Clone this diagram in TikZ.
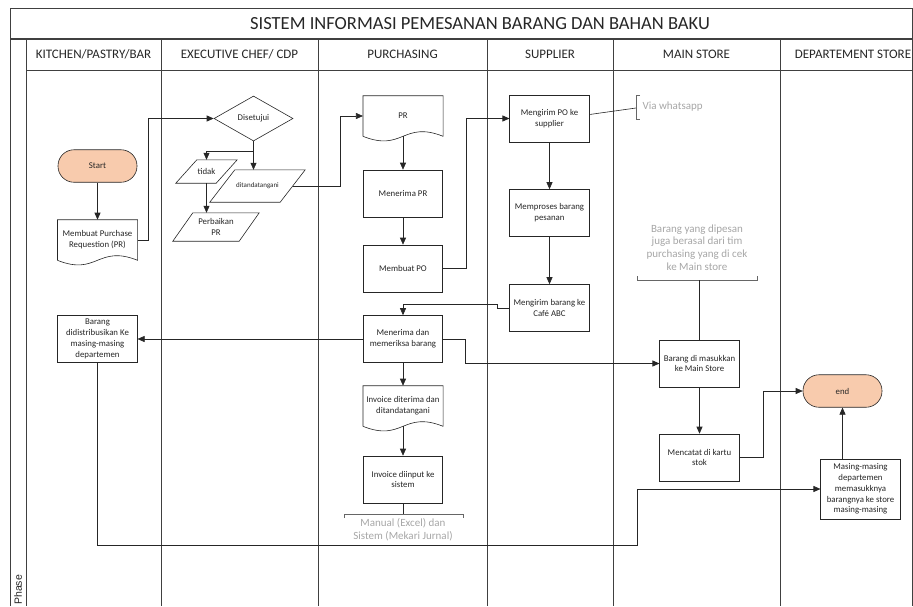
\documentclass[tikz,border=0pt]{standalone}
\usepackage{fontspec}
\setmainfont{Carlito}
\newfontfamily\phasefont{Liberation Sans}
\usetikzlibrary{arrows.meta,shapes.geometric,calc}
\definecolor{frame}{HTML}{404040}
\definecolor{peach}{HTML}{F8CBAD}
\definecolor{note}{HTML}{A6A6A6}
\definecolor{ink}{HTML}{262626}

\begin{document}
\begin{tikzpicture}[x=1pt,y=1pt,
  lane/.style={draw=frame,line width=1pt},
  lanehead/.style={text=ink,font=\fontsize{13}{15}\selectfont},
  procbox/.style={draw=ink,line width=0.6pt,fill=white,minimum width=79.5pt,minimum height=47pt,inner sep=1pt,align=center,text=ink,font=\fontsize{8.8}{10.8}\selectfont},
  docbox/.style={procbox,draw=none,fill=none,minimum height=40pt},
  terminal/.style={draw=ink,line width=0.6pt,fill=peach,rounded corners=16pt,minimum width=79pt,minimum height=32.5pt,text=ink,font=\fontsize{8.8}{10.8}\selectfont},
  decision/.style={diamond,draw=ink,line width=0.6pt,aspect=1.75,minimum width=79pt,minimum height=45pt,inner sep=0pt,text=ink,font=\fontsize{8.8}{10.8}\selectfont},
  ioshape/.style={inner sep=1pt,align=center,text=ink,font=\fontsize{8.8}{10.8}\selectfont},
  notetext/.style={text=note,align=center,font=\fontsize{11}{12.8}\selectfont},
  arrow/.style={-{Triangle[length=7pt,width=6pt]},line width=0.6pt,color=ink},
  link/.style={line width=0.6pt,color=ink},
  bracket/.style={line width=0.9pt,draw=frame!80}
]
\useasboundingbox (0,0) rectangle (913,-606);

% swimlane frame
\draw[lane] (10,-606) -- (10,-8) -- (912,-8) -- (912,-606);
\draw[lane,line width=1.6pt] (10,-39) -- (912,-39);
\draw[lane] (26,-70) -- (912,-70);
\draw[lane] (26,-39) -- (26,-606);
\foreach \x in {161,318,487,613,780}
  \draw[lane] (\x,-39) -- (\x,-606);

\node[text=ink,font=\fontsize{18.5}{20}\selectfont] (title) at (480,-23.5) {SISTEM INFORMASI PEMESANAN BARANG DAN BAHAN BAKU};
\node[lanehead] (h1) at (93.5,-54.5) {KITCHEN/PASTRY/BAR};
\node[lanehead] (h2) at (239.5,-54.5) {EXECUTIVE CHEF/ CDP};
\node[lanehead] (h3) at (402.5,-54.5) {PURCHASING};
\node[lanehead] (h4) at (550,-54.5) {SUPPLIER};
\node[lanehead] (h5) at (696.5,-54.5) {MAIN STORE};
\node[lanehead] (h6) at (853,-54.5) {DEPARTEMENT STORE};
\node[rotate=90,anchor=west,inner sep=0pt,text=ink,font=\phasefont\fontsize{10.5}{12}\selectfont] (phase) at (18,-605) {Phase};

% kitchen
\node[terminal] (start) at (97.5,-166) {Start};
\node[docbox] (req) at (97.5,-240) {Membuat Purchase\\Requestion (PR)};
\node[procbox] (distr) at (97.5,-339) {Barang\\didistribusikan Ke\\masing-masing\\departemen};

% executive chef
\node[decision] (acc) at (253.5,-118.5) {Disetujui};
\node[ioshape,minimum width=61pt,minimum height=23pt] (tidak) at (206.5,-171.5) {tidak};
\node[ioshape,minimum width=95pt,minimum height=32pt,font=\fontsize{7}{8}\selectfont] (sign) at (257.5,-186) {ditandatangani};
\node[ioshape,minimum width=86pt,minimum height=28pt] (fix) at (216,-227) {Perbaikan\\PR};

% purchasing
\node[docbox] (pr) at (403,-116) {PR};
\node[procbox] (terimapr) at (403,-193.5) {Menerima PR};
\node[procbox] (po) at (403,-268.5) {Membuat PO};
\node[procbox] (cek) at (403,-339) {Menerima dan\\memeriksa barang};
\node[docbox] (invin) at (403,-406) {Invoice diterima dan\\ditandatangani};
\node[procbox] (input) at (403,-479.5) {Invoice diinput ke\\sistem};

% supplier
\node[procbox] (kirimpo) at (549.5,-118.5) {Mengirim PO ke\\supplier};
\node[procbox] (proses) at (549.5,-213) {Memproses barang\\pesanan};
\node[procbox] (kirimbrg) at (549.5,-308) {Mengirim barang ke\\Caf\'e ABC};

% main store
\node[procbox] (masuk) at (699.5,-363.5) {Barang di masukkan\\ke Main Store};
\node[procbox] (catat) at (699.5,-457.5) {Mencatat di kartu\\stok};

% departement store
\node[terminal] (end) at (842.5,-391) {end};
\node[procbox,minimum height=60pt] (simpan) at (860.5,-489) {Masing-masing\\departemen\\memasukknya\\barangnya ke store\\masing-masing};

% document and data outlines
\foreach \d in {req,pr,invin}
  \draw[link] (\d.south west) -- (\d.north west) -- (\d.north east) -- (\d.south east)
    .. controls +(-40,16) and +(40,-16) .. (\d.south west);
\foreach \n/\s in {tidak/21,fix/20,sign/25}
  \draw[link] (\n.south west) -- ([xshift=-\s pt]\n.south east) -- (\n.north east)
    -- ([xshift=\s pt]\n.north west) -- cycle;

% notes
\coordinate (wabr) at (636,-108);
\draw[bracket] (640,-95) -- (636,-95) -- (636,-119) -- (640,-119);
\node[notetext,anchor=west] (wa) at (639,-107) {Via whatsapp};
\node[notetext] (stocknote) at (697,-247.5) {Barang yang dipesan\\juga berasal dari tim\\purchasing yang di cek\\ke Main store};
\coordinate (stockbr) at (699.5,-280);
\draw[bracket] (637,-276) -- (637,-280) -- (757,-280) -- (757,-276);
\coordinate (invbr) at (403,-514);
\draw[bracket] (344,-518) -- (344,-514) -- (463,-514) -- (463,-518);
\node[notetext] (invnote) at (403,-530) {Manual (Excel) dan\\Sistem (Mekari Jurnal)};

% connectors
\draw[arrow] (start) -- (req);
\draw[arrow] (req.east) -- ++(11,0) |- (acc.west);
\coordinate (fork) at ($(acc.south)+(0,-10)$);
\draw[arrow] (acc.south) -- (acc.south |- sign.north);
\draw[arrow] (fork) -| (tidak.north);
\draw[arrow] (tidak.south) -- (tidak.south |- fix.north);
\draw[arrow] ([xshift=-12.5pt]sign.east) -- ++(47.5,0) |- (pr.west);
\draw[arrow] (pr) -- (terimapr);
\draw[arrow] (terimapr) -- (po);
\draw[arrow] (po.east) -- ++(23,0) |- (kirimpo.west);
\draw[link] ([yshift=4pt]kirimpo.east) -- (wabr);
\draw[arrow] (kirimpo) -- (proses);
\draw[arrow] (proses) -- (kirimbrg);
\draw[arrow] (kirimbrg.west) -- ++(-12,0) -- ++(0,4) -| (cek.north);
\draw[arrow] (cek) -- (distr);
\draw[arrow] (cek.east) -- ++(22,0) |- (masuk.west);
\draw[arrow] (cek) -- (invin);
\draw[arrow] (invin) -- (input);
\draw[link] (input.south) -- (invbr);
\draw[link] (stockbr) -- (masuk.north);
\draw[arrow] (masuk) -- (catat);
\draw[arrow] (catat.east) -- ++(24,0) |- (end.west);
\draw[arrow] (simpan.north -| end.south) -- (end.south);
\coordinate (turn) at (637,-545);
\draw[arrow] (distr.south) |- (turn) |- (simpan.west);
\end{tikzpicture}
\end{document}
